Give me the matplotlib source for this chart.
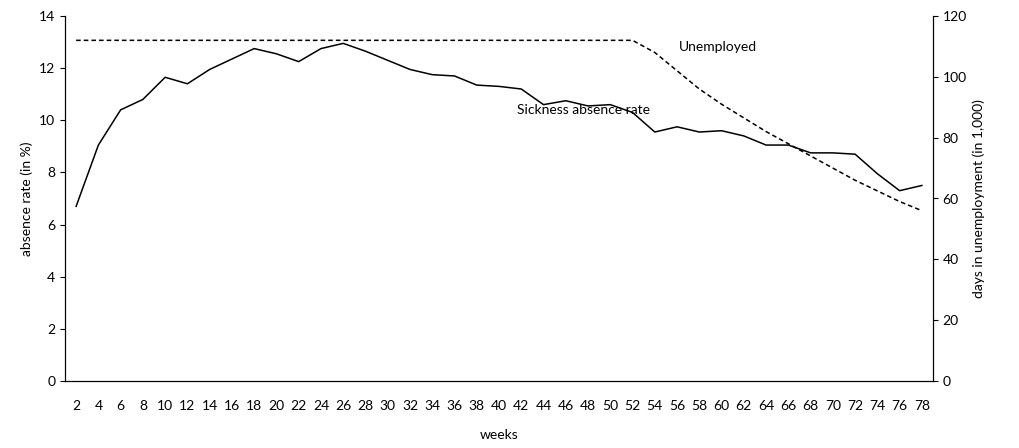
import matplotlib
matplotlib.use("Agg")
import matplotlib.pyplot as plt
import numpy as np

weeks = list(range(2, 80, 2))
sickness = [6.7, 9.05, 10.4, 10.8, 11.65, 11.4, 11.95, 12.35, 12.75, 12.55, 12.25, 12.75, 12.95,
            12.65, 12.3, 11.95, 11.75, 11.7, 11.35, 11.3, 11.2, 10.6, 10.75, 10.55, 10.6, 10.3,
            9.55, 9.75, 9.55, 9.6, 9.4, 9.05, 9.05, 8.75, 8.75, 8.7, 7.95, 7.3, 7.5]
unemployed = [112]*25 + [112, 108, 102, 96, 91, 86.5, 82, 78, 74, 70, 66, 62.5, 59, 56]

plt.rcParams['font.family'] = ['Lato', 'DejaVu Sans']
fig = plt.figure(figsize=(10.2, 4.48), dpi=100)
ax = fig.add_axes([65/1020, 1-381/448, 868/1020, 365/448])
x = np.arange(len(weeks))
ax.plot(x, sickness, color='black', lw=1.1)
ax.set_xlim(-0.5, len(weeks)-0.5)
ax.set_ylim(0, 14)
ax.set_yticks(range(0, 15, 2))
ax.set_xticks(x)
ax.set_xticklabels([str(w) for w in weeks])
ax.set_xlabel('weeks', fontsize=10, labelpad=12)
ax.set_ylabel('absence rate (in %)', fontsize=10)
ax.spines['top'].set_visible(False)
ax.tick_params(axis='x', length=0, labelsize=10, pad=14)
ax.tick_params(axis='y', labelsize=10)
ax2 = ax.twinx()
ax2.plot(x, unemployed, color='black', lw=1.1, ls=(0, (3, 2)))
ax2.set_ylim(0, 120)
ax2.set_yticks(range(0, 121, 20))
ax2.set_ylabel('days in unemployment (in 1,000)', fontsize=10)
ax2.spines['top'].set_visible(False)
ax2.tick_params(axis='y', labelsize=10)
ax.text(19.8, 10.4, 'Sickness absence rate', fontsize=10, va='center')
ax.text(27.1, 12.8, 'Unemployed', fontsize=10, va='center')
fig.savefig('out.png', dpi=100)
